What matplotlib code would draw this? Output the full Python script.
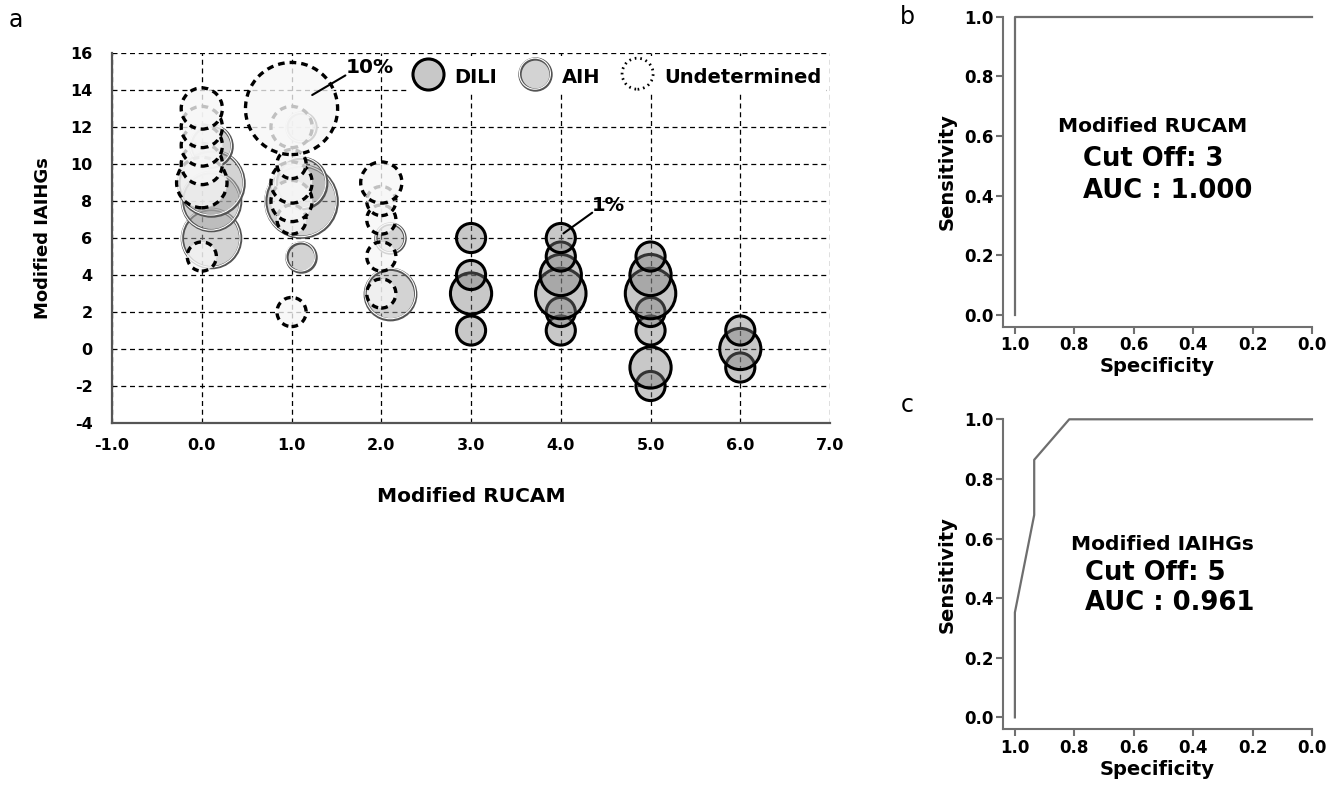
import matplotlib
matplotlib.use("Agg")
import matplotlib.pyplot as plt
import numpy as np

plt.rcParams['font.family'] = ['DejaVu Sans']

# panel a: bubble chart, bubble area ~ percent of patients
dili_x = [3, 3, 3, 3, 4, 4, 4, 4, 4, 4, 5, 5, 5, 5, 5, 5, 5, 6, 6, 6]
dili_y = [1, 3, 4, 6, 1, 2, 3, 4, 5, 6, -2, -1, 1, 2, 3, 4, 5, -1, 0, 1]
dili_pct = [1, 2, 1, 1, 1, 1, 3, 2, 1, 1, 1, 2, 1, 1, 3, 2, 1, 1, 2, 1]

aih_x = [0, 0, 0, 0, 1, 1, 1, 1, 2, 2]
aih_y = [6, 8, 9, 11, 5, 8, 9, 12, 3, 6]
aih_pct = [4, 4, 5, 2, 1, 6, 3, 1, 3, 1]

und_x = [0, 0, 0, 0, 0, 0, 1, 1, 1, 1, 1, 1, 1, 2, 2, 2, 2, 2]
und_y = [5, 9, 10, 11, 12, 13, 2, 7, 8, 9, 10, 12, 13, 3, 5, 7, 8, 9]
und_pct = [1, 3, 2, 2, 2, 2, 1, 1, 2, 2, 1, 2, 10, 1, 1, 1, 1, 2]

legend_labels = ["DILI", "AIH", "Undetermined"]

# panels b, c: ROC curves
roc_b_spec = [1.0, 1.0, 0.0]
roc_b_sens = [0.0, 1.0, 1.0]
roc_c_spec = [1.0, 1.0, 0.935, 0.935, 0.817, 0.0]
roc_c_sens = [0.0, 0.352, 0.679, 0.864, 1.0, 1.0]
roc_b_text = ["Modified RUCAM", "Cut Off: 3", "AUC : 1.000"]
roc_c_text = ["Modified IAIHGs", "Cut Off: 5", "AUC : 0.961"]

S_PER_PCT = 440
AIH_DODGE = 0.1

fig = plt.figure(figsize=(13.42, 7.88), dpi=100)

ax = fig.add_axes([0.0835, 0.4632, 0.535, 0.4695])
ax.set_xlim(-1, 7)
ax.set_ylim(-4, 16)
xt = list(range(-1, 8))
yt = list(range(-4, 17, 2))
ax.set_xticks(xt, labels=[f"{v:.1f}" for v in xt], fontweight='bold')
ax.set_yticks(yt, labels=[str(v) for v in yt], fontweight='bold')
ax.tick_params(length=0, labelsize=11.5)
ax.tick_params(axis='x', pad=11)
ax.tick_params(axis='y', pad=14)
ax.grid(True, color='black', linestyle=(0, (4, 3)), linewidth=0.9)
ax.set_axisbelow(True)
for s in ['top', 'right']:
    ax.spines[s].set_visible(False)
for s in ['left', 'bottom']:
    ax.spines[s].set_color('#555555')
    ax.spines[s].set_linewidth(1.6)

dili_face = (0.49, 0.49, 0.49, 0.42)
aih_face = (0.66, 0.66, 0.66, 0.5)
und_face = (0.97, 0.97, 0.97, 0.78)

ax.scatter(dili_x, dili_y, s=np.array(dili_pct) * S_PER_PCT,
           facecolors=[dili_face], edgecolors='black', linewidths=2.2, zorder=3)

for x, y, p in zip(aih_x, aih_y, aih_pct):
    ax.scatter([x + AIH_DODGE], [y], s=p * S_PER_PCT, facecolors=[aih_face],
               edgecolors='#555555', linewidths=2.4, zorder=3)
    ax.scatter([x + AIH_DODGE], [y], s=p * S_PER_PCT, facecolors='none',
               edgecolors='white', linewidths=0.8, zorder=3)

ax.scatter(und_x, und_y, s=np.array(und_pct) * S_PER_PCT,
           facecolors=[und_face], edgecolors='black', linewidths=2.4,
           linestyle=(0, (2, 1.5)), zorder=4)

# legend
leg_s = 500
h_dili = ax.scatter([], [], s=leg_s, facecolors=[dili_face], edgecolors='black', linewidths=2.2)
h_aih1 = ax.scatter([], [], s=leg_s, facecolors=[aih_face], edgecolors='#555555', linewidths=2.4)
h_aih2 = ax.scatter([], [], s=leg_s, facecolors='none', edgecolors='white', linewidths=0.8)
h_und = ax.scatter([], [], s=leg_s, facecolors='white', edgecolors='black', linewidths=2.0,
                   linestyle=(0, (0.6, 1.4)))
leg = ax.legend([h_dili, (h_aih1, h_aih2), h_und], legend_labels,
                loc='center right', bbox_to_anchor=(0.995, 0.936), ncol=3,
                frameon=True, facecolor='white', edgecolor='none', framealpha=1,
                fancybox=False, borderpad=0.25, handlelength=1.65, handleheight=1.6,
                handletextpad=0.55, columnspacing=1.1, borderaxespad=0,
                scatterpoints=1, prop={'weight': 'bold', 'size': 14})
leg.set_zorder(6)

ax.annotate('10%', xy=(1.23, 13.73), xytext=(1.6, 15.2), ha='left', va='center',
            fontsize=14.5, fontweight='bold', zorder=6,
            arrowprops=dict(arrowstyle='-', color='black', lw=1.5, shrinkA=0,
                            shrinkB=0, relpos=(0, 0.1), patchA=None))
ax.annotate('1%', xy=(4.03, 6.25), xytext=(4.35, 7.78), ha='left', va='center',
            fontsize=14, fontweight='bold', zorder=6,
            arrowprops=dict(arrowstyle='-', color='black', lw=1.5, shrinkA=0,
                            shrinkB=0, relpos=(0, 0.1), patchA=None))

ax.set_xlabel('Modified RUCAM', fontsize=14.5, fontweight='bold', labelpad=24)
ax.set_ylabel('Modified IAIHGs', fontsize=13, fontweight='bold', labelpad=13)


def roc_panel(rect, spec, sens, texts, text_pos):
    a = fig.add_axes(rect)
    a.plot(spec, sens, color='#6e6e6e', lw=1.6, clip_on=False)
    a.set_xlim(1.04, 0.0)
    a.set_ylim(-0.04, 1.0)
    ticks = [1.0, 0.8, 0.6, 0.4, 0.2, 0.0]
    a.set_xticks(ticks, labels=[f"{t:.1f}" for t in ticks], fontweight='bold')
    a.set_yticks(ticks, labels=[f"{t:.1f}" for t in ticks], fontweight='bold')
    a.tick_params(direction='out', length=5, width=1.5, color='#707070',
                  labelsize=12, pad=2)
    for s in ['top', 'right']:
        a.spines[s].set_visible(False)
    for s in ['left', 'bottom']:
        a.spines[s].set_color('#707070')
        a.spines[s].set_linewidth(1.5)
    a.set_xlabel('Specificity', fontsize=14, fontweight='bold', labelpad=2)
    a.set_ylabel('Sensitivity', fontsize=14, fontweight='bold', labelpad=5)
    sizes = [14.6, 18.6, 18.6]
    for t, size, (x, y) in zip(texts, sizes, text_pos):
        a.text(x, y, t, fontsize=size, fontweight='bold', ha='left', va='center')
    return a


roc_panel([0.7474, 0.5854, 0.2302, 0.3934], roc_b_spec, roc_b_sens, roc_b_text,
          [(0.855, 0.632), (0.772, 0.522), (0.772, 0.414)])
roc_panel([0.7474, 0.0745, 0.2302, 0.3934], roc_c_spec, roc_c_sens, roc_c_text,
          [(0.8125, 0.579), (0.764, 0.486), (0.764, 0.383)])

fig.text(16 / 1342, 1 - 20 / 788, 'a', fontsize=17, ha='center', va='center')
fig.text(907 / 1342, 1 - 17 / 788, 'b', fontsize=17, ha='center', va='center')
fig.text(907 / 1342, 1 - 405 / 788, 'c', fontsize=17, ha='center', va='center')

fig.savefig('out.png', dpi=100)
